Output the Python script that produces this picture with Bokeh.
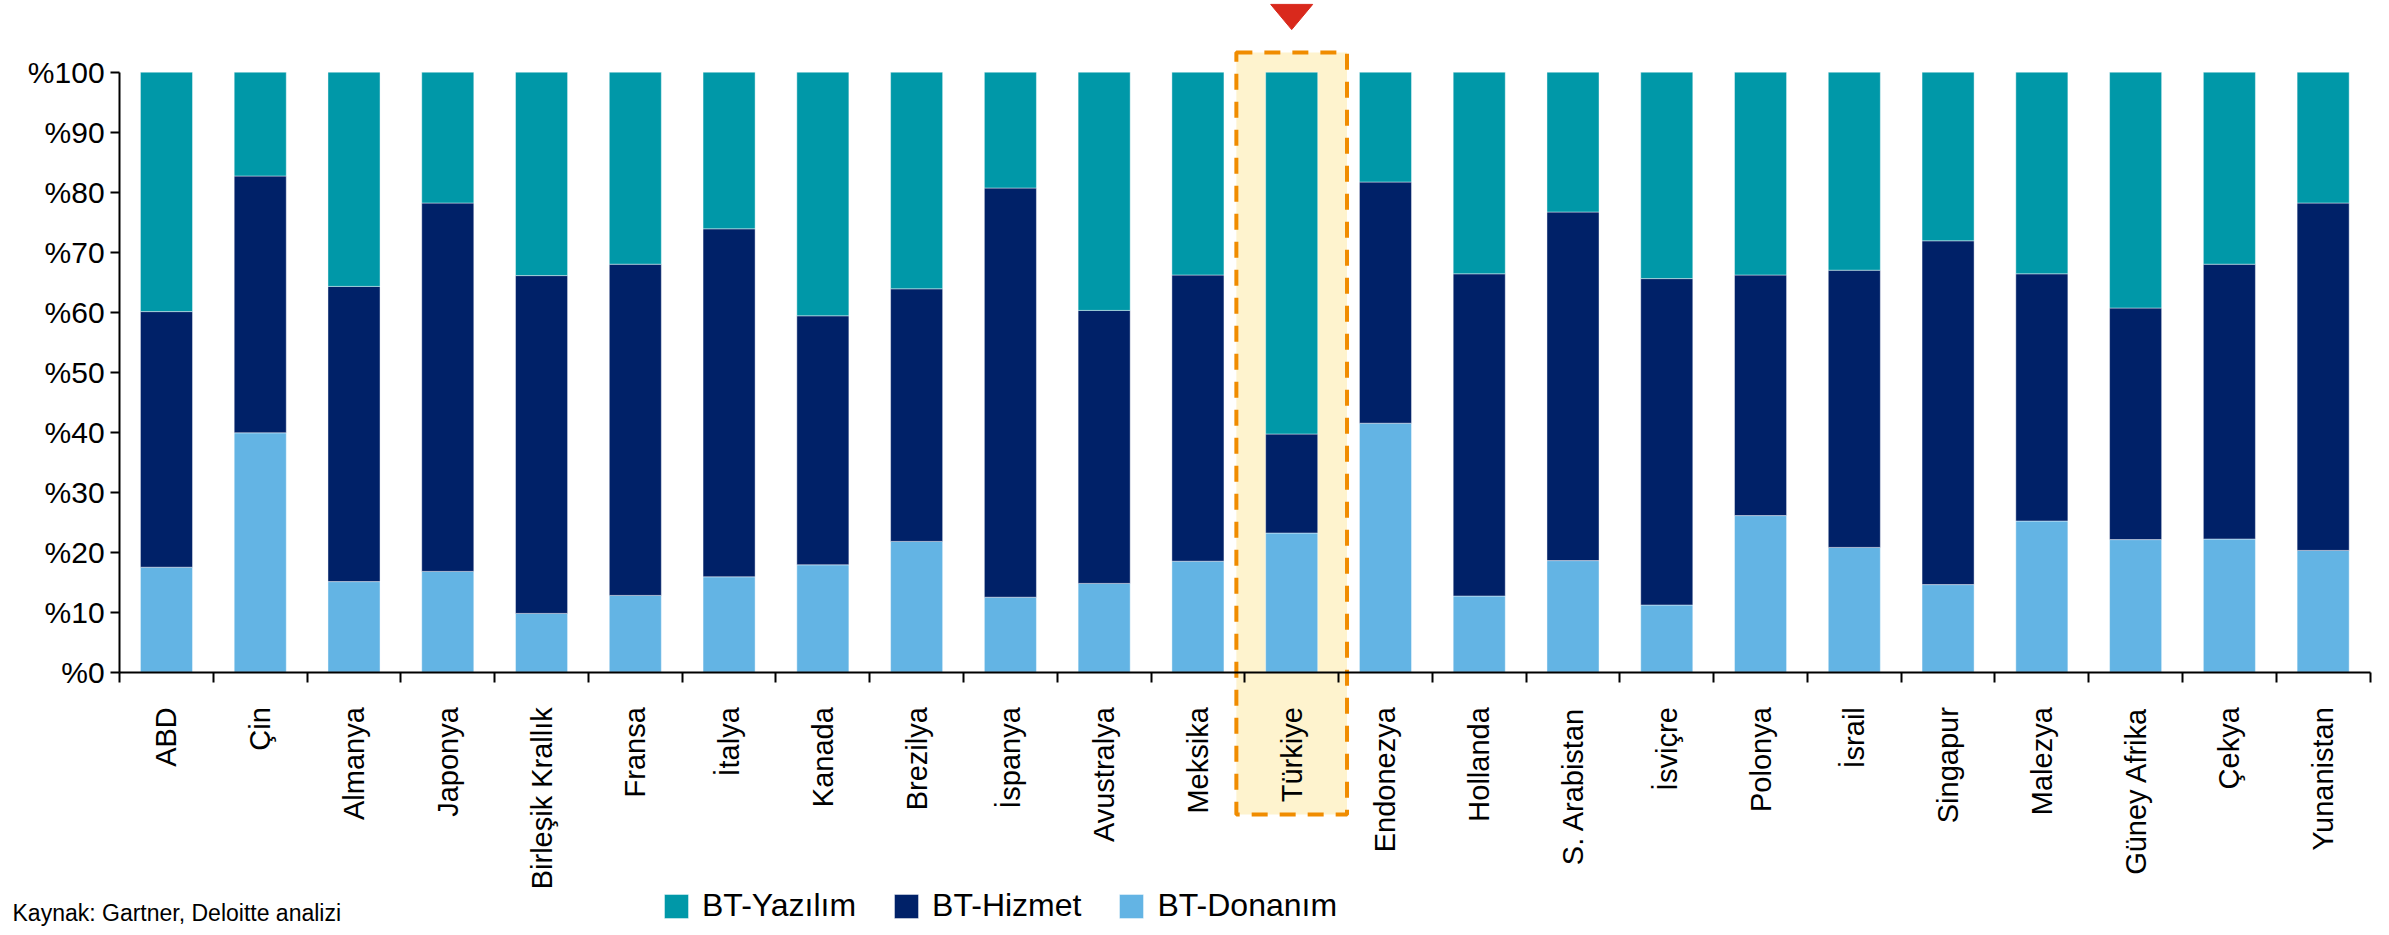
import numpy as np
from bokeh.plotting import figure
from bokeh.models import (LinearAxis, FixedTicker, Range1d, Legend, LegendItem,
                          Label, ColumnDataSource)
from bokeh.embed import file_html
from bokeh.resources import INLINE

categories = ["ABD", "Çin", "Almanya", "Japonya", "Birleşik Krallık", "Fransa", "İtalya",
              "Kanada", "Brezilya", "İspanya", "Avustralya", "Meksika", "Türkiye",
              "Endonezya", "Hollanda", "S. Arabistan", "İsviçre", "Polonya", "İsrail",
              "Singapur", "Malezya", "Güney Afrika", "Çekya", "Yunanistan"]

bt_donanim = [17.5, 39.9, 15.1, 16.8, 9.8, 12.8, 15.9, 17.9, 21.8, 12.5, 14.8, 18.5,
              23.2, 41.5, 12.7, 18.6, 11.2, 26.1, 20.8, 14.6, 25.2, 22.1, 22.2, 20.3]
bt_hizmet = [42.6, 42.8, 49.2, 61.4, 56.3, 55.2, 58.0, 41.5, 42.1, 68.2, 45.5, 47.7,
             16.5, 40.2, 53.7, 58.1, 54.4, 40.1, 46.2, 57.3, 41.2, 38.6, 45.8, 57.9]
bt_yazilim = [39.9, 17.3, 35.7, 21.8, 33.9, 32.0, 26.1, 40.6, 36.1, 19.3, 39.7, 33.8,
              60.3, 18.3, 33.6, 23.3, 34.4, 33.8, 33.0, 28.1, 33.6, 39.3, 32.0, 21.8]

series_names = ["BT-Yazılım", "BT-Hizmet", "BT-Donanım"]
y_ticks = list(range(0, 101, 10))
highlight = "Türkiye"
source_text = "Kaynak: Gartner, Deloitte analizi"

C_YAZ = "#0098A8"
C_HIZ = "#002168"
C_DON = "#63B4E4"
FONT = "Liberation Sans"

n = len(categories)
xs = list(range(n))
src = ColumnDataSource(dict(x=xs, donanim=bt_donanim, hizmet=bt_hizmet, yazilim=bt_yazilim))

W, H = 2373, 927
p = figure(width=W, height=H, x_range=Range1d(-1.770, 23.537), y_range=Range1d(-42.55, 111.95),
           x_axis_type=None, y_axis_type=None, toolbar_location=None, output_backend="svg",
           min_border=0, outline_line_color=None)
p.background_fill_color = "white"
p.border_fill_color = "white"

# highlight box behind Türkiye
hi = categories.index(highlight)
p.quad(left=[hi - 0.59], right=[hi + 0.59], bottom=[-23.7], top=[103.3],
       fill_color="#FEF3CE", line_color="#F08C00", line_width=4, line_dash="16 12")
# red marker triangle
p.patch(x=[hi - 0.224, hi + 0.224, hi], y=[111.3, 111.3, 107.1],
        fill_color="#D9291C", line_color="#D9291C")

rs = p.vbar_stack(["donanim", "hizmet", "yazilim"], x="x", width=0.555, source=src,
                  color=[C_DON, C_HIZ, C_YAZ], line_color="white", line_width=0.6,
                  line_alpha=0.7)

xaxis = LinearAxis(fixed_location=0, bounds=(-0.5, n - 0.5),
                   ticker=FixedTicker(ticks=xs, minor_ticks=[i - 0.5 for i in range(n + 1)]),
                   major_label_overrides={i: c for i, c in enumerate(categories)},
                   major_label_orientation=np.pi / 2,
                   major_tick_out=0, major_tick_in=0,
                   minor_tick_out=10, minor_tick_in=0, minor_tick_line_width=2,
                   minor_tick_line_color="black",
                   axis_line_width=2, axis_line_color="black",
                   major_label_standoff=25,
                   major_label_text_font=FONT, major_label_text_font_size="29px",
                   major_label_text_color="black")
p.add_layout(xaxis, "below")

yaxis = LinearAxis(fixed_location=-0.5, bounds=(0, 100),
                   ticker=FixedTicker(ticks=y_ticks),
                   major_label_overrides={v: f"%{v}" for v in y_ticks},
                   major_tick_out=9, major_tick_in=0, minor_tick_out=0, minor_tick_in=0,
                   major_tick_line_width=2, major_tick_line_color="black",
                   axis_line_width=2, axis_line_color="black",
                   major_label_standoff=6,
                   major_label_text_font=FONT, major_label_text_font_size="30px",
                   major_label_text_color="black")
p.add_layout(yaxis, "left")

legend = Legend(items=[LegendItem(label=series_names[0], renderers=[rs[2]]),
                       LegendItem(label=series_names[1], renderers=[rs[1]]),
                       LegendItem(label=series_names[2], renderers=[rs[0]])],
                location=(661, 3), orientation="horizontal",
                glyph_width=30, glyph_height=30, label_standoff=11, spacing=35,
                padding=0, margin=0, border_line_alpha=0, background_fill_alpha=0,
                label_text_font=FONT, label_text_font_size="32px", label_text_color="black")
p.add_layout(legend)

p.add_layout(Label(x=12, y=15, x_units="screen", y_units="screen", text=source_text,
                   text_baseline="alphabetic", text_font=FONT, text_font_size="23px",
                   text_color="black"))

open("out.html", "w").write(file_html(p, INLINE))
